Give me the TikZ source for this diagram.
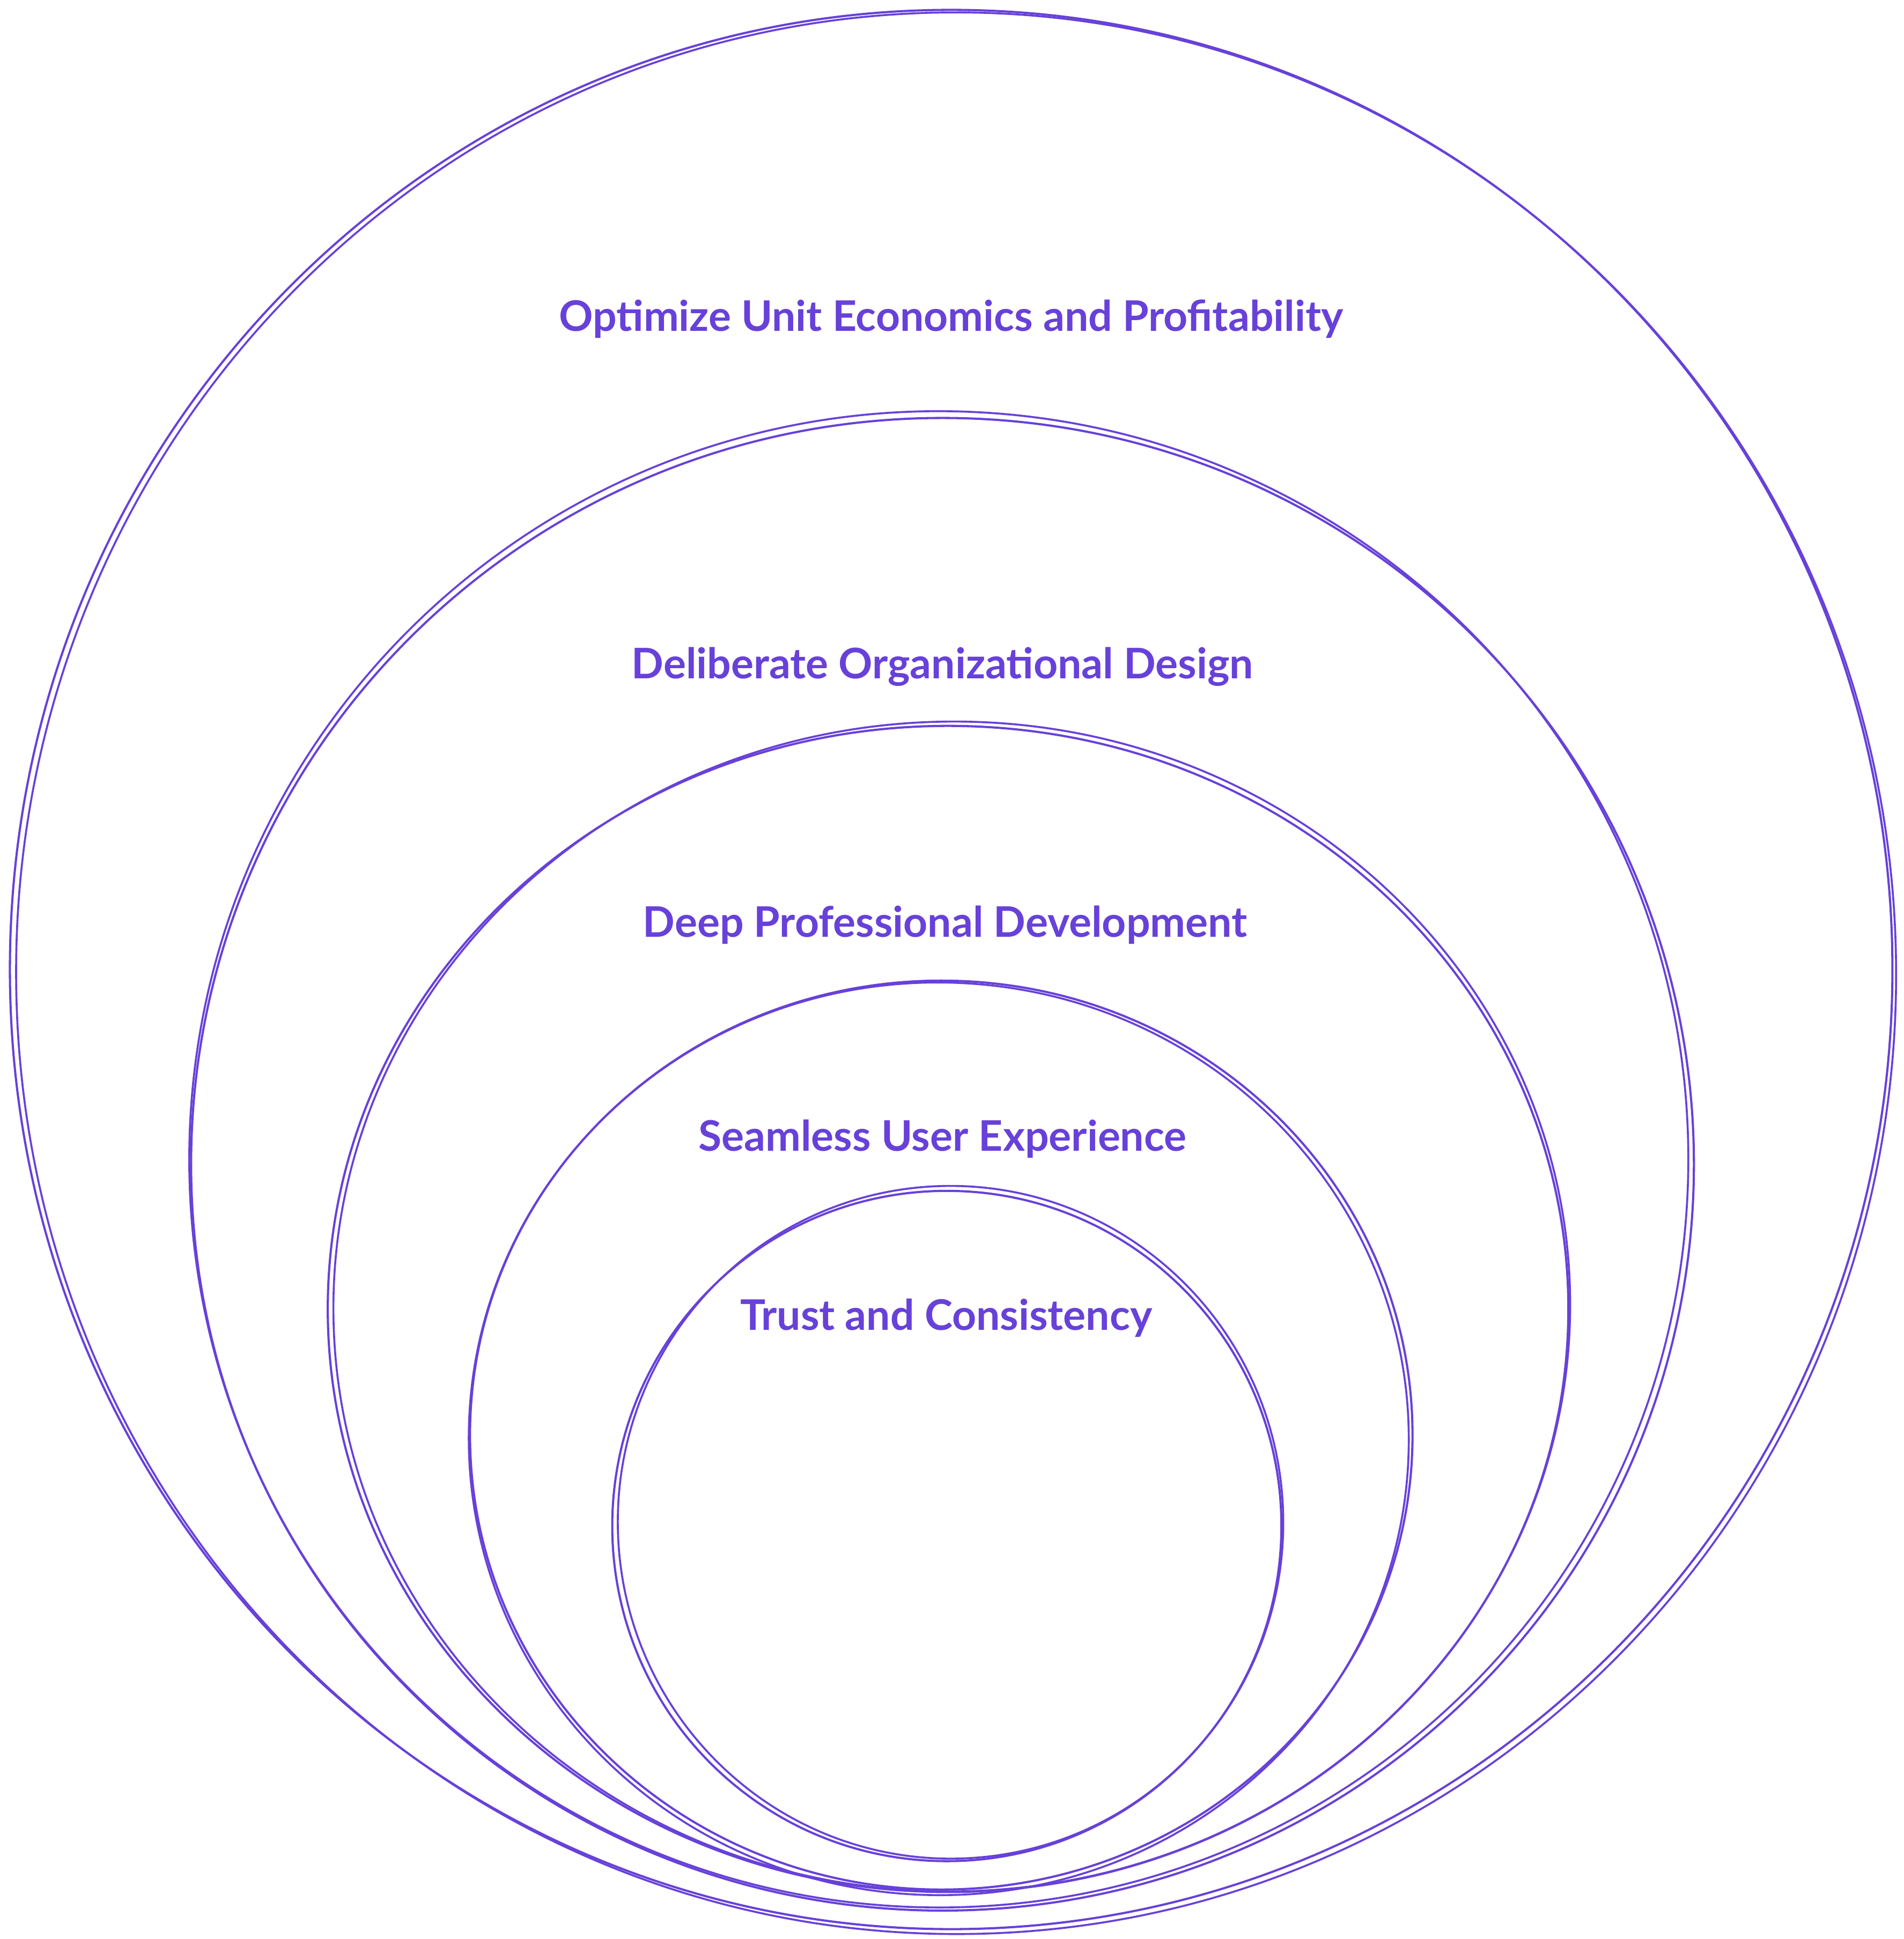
\documentclass[tikz,border=0pt]{standalone}
\usepackage{fontspec}
\setmainfont{Lato}
\usepackage{xcolor}
\usepackage{tikz}
\usetikzlibrary{shapes.geometric,positioning}
\definecolor{violet}{HTML}{6741D9}

\begin{document}
\begin{tikzpicture}[
  ring/.style   = {ellipse, draw=violet, line width=0.5pt, inner sep=0pt},
  sketch/.style = {draw=violet, line width=0.45pt},
  lbl/.style    = {text=violet, font=\fontsize{9.7}{11}\selectfont\bfseries, inner sep=1pt},
]
\useasboundingbox (0,0) rectangle (15.39,-15.68);
% nested rings, outer to inner
\node[ring, minimum width=15.22cm, minimum height=15.52cm] (econ) at (7.69,-7.84) {};
\node[ring, minimum width=12.15cm, minimum height=12.07cm] (org)  at (7.62,-9.415) {};
\node[ring, minimum width=10.03cm, minimum height=9.43cm]  (dev)  at (7.665,-10.585) {};
\node[ring, minimum width=7.62cm,  minimum height=7.35cm]  (ux)   at (7.61,-11.605) {};
\node[ring, minimum width=5.41cm,  minimum height=5.42cm]  (trust) at (7.655,-12.34) {};
% second pencil stroke
\draw[sketch] ([xshift=0.4mm,yshift=-0.3mm]econ.center) ellipse [x radius=7.60, y radius=7.77, rotate=1.2];
\draw[sketch] ([xshift=-0.3mm,yshift=0.4mm]org.center) ellipse [x radius=6.06, y radius=6.05, rotate=-1.5];
\draw[sketch] ([xshift=0.3mm,yshift=0.2mm]dev.center) ellipse [x radius=5.00, y radius=4.73, rotate=1.8];
\draw[sketch] ([xshift=-0.2mm,yshift=-0.3mm]ux.center) ellipse [x radius=3.80, y radius=3.69, rotate=-2];
\draw[sketch] ([xshift=0.3mm,yshift=0.3mm]trust.center) ellipse [x radius=2.69, y radius=2.72, rotate=2];
% labels
\node[lbl] (econL)  at (7.69,-2.58)  {Optimize Unit Economics and Profitability};
\node[lbl] (orgL)   at (7.62,-5.39)  {Deliberate Organizational Design};
\node[lbl] (devL)   at (7.64,-7.48)  {Deep Professional Development};
\node[lbl] (uxL)    at (7.62,-9.21)  {Seamless User Experience};
\node[lbl] (trustL) at (7.65,-10.66) {Trust and Consistency};
\end{tikzpicture}
\end{document}
